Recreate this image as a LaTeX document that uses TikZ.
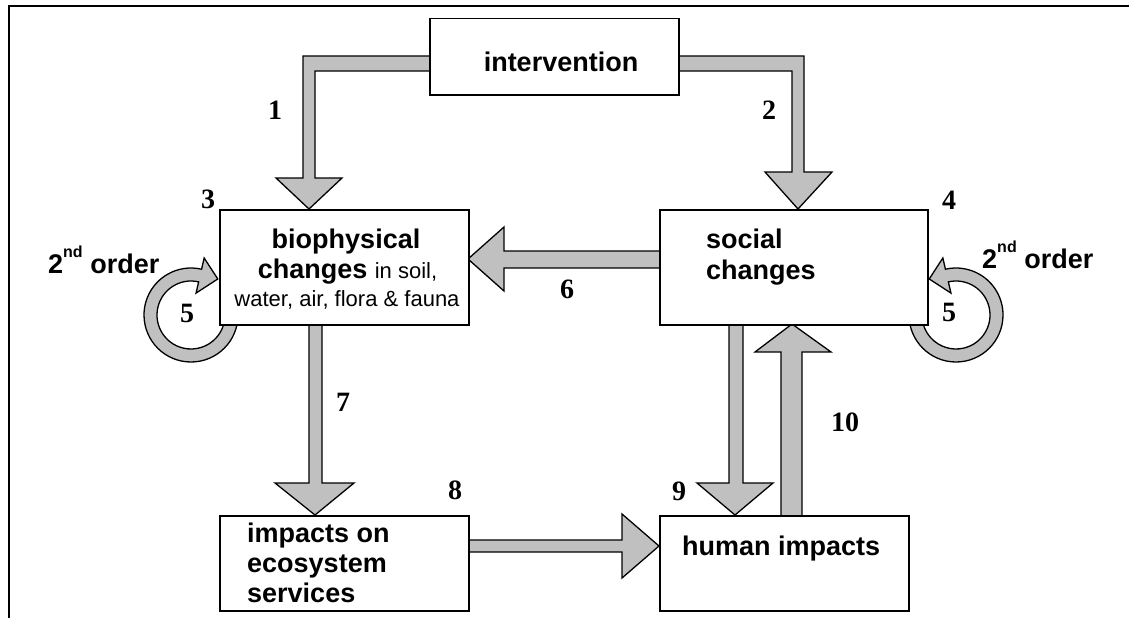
\documentclass[tikz,border=0pt]{standalone}
\usepackage{fontspec}
\setmainfont{Liberation Sans}
\newfontfamily\numfont{Liberation Serif}
\usetikzlibrary{calc}
\definecolor{arrowgray}{RGB}{192,192,192}
\tikzset{
  box/.style={draw, line width=1.5pt, fill=white, inner sep=0pt, anchor=north west},
  blk/.style={draw, line width=1.3pt, fill=arrowgray, line join=miter},
  num/.style={font=\numfont\bfseries\fontsize{28}{28}\selectfont, inner sep=0pt},
  big/.style={font=\bfseries\fontsize{27}{30}\selectfont, inner sep=0pt},
  small/.style={font=\fontsize{22}{26}\selectfont, inner sep=0pt},
  frame/.style={line width=1.5pt},
}
\begin{document}
\begin{tikzpicture}[x=1pt,y=-1pt]
\useasboundingbox (0,0) rectangle (1129,618);
% frame
\coordinate (fbl) at (9,618);
\coordinate (ftl) at (9,6);
\coordinate (ftr) at (1129,6);
\draw[frame] (fbl) -- (ftl) -- (ftr);

% box placement coordinates
\coordinate (intp) at (429,18);
\coordinate (biop) at (219,209);
\coordinate (socp) at (659,209);
\coordinate (impp) at (219,515);
\coordinate (hump) at (659,515);

% block arrows (drawn behind boxes)
% 1: intervention -> biophysical
\draw[blk] (440,56) -- (303,56) -- (303,178) -- (276,178) -- (309,209)
  -- (342,178) -- (315,178) -- (315,71) -- (440,71) -- cycle;
% 2: intervention -> social
\draw[blk] (670,56) -- (804,56) -- (804,172) -- (832,172) -- (798,209)
  -- (765,172) -- (792,172) -- (792,71) -- (670,71) -- cycle;
% 6: social -> biophysical
\draw[blk] (670,251) -- (504,251) -- (504,227) -- (468,259) -- (504,291)
  -- (504,268) -- (670,268) -- cycle;
% 7: biophysical -> impacts on ecosystem services
\draw[blk] (309,310) -- (309,483) -- (275,483) -- (315,515) -- (354,483)
  -- (322,483) -- (322,310) -- cycle;
% 8: impacts -> human impacts
\draw[blk] (455,540) -- (622,540) -- (622,514) -- (659,546) -- (622,578)
  -- (622,552) -- (455,552) -- cycle;
% 9: social -> human impacts
\draw[blk] (729,310) -- (729,483) -- (697,483) -- (735,515) -- (773,483)
  -- (743,483) -- (743,310) -- cycle;
% 10: human impacts -> social
\draw[blk] (781,525) -- (781,352) -- (755,352) -- (792,324) -- (831,352)
  -- (802,352) -- (802,525) -- cycle;

% 2nd order loops
\coordinate (cL) at (191,315);
\draw[blk] ($(cL)+(0:47)$) arc[start angle=0, end angle=283, radius=47]
  -- ($(cL)+(283:58.5)$) -- ($(cL)+(283:40.5)+(11:18)$)
  -- ($(cL)+(283:22.5)$) -- ($(cL)+(283:34)$)
  arc[start angle=283, end angle=0, radius=34] -- cycle;
\coordinate (cR) at (956,315);
\draw[blk] ($(cR)+(180:47)$) arc[start angle=180, end angle=-103, radius=47]
  -- ($(cR)+(-103:58.5)$) -- ($(cR)+(-103:40.5)+(169:18)$)
  -- ($(cR)+(-103:22.5)$) -- ($(cR)+(-103:34)$)
  arc[start angle=-103, end angle=180, radius=34] -- cycle;

% boxes
\node[box, minimum width=249pt, minimum height=76pt] (int) at (intp) {};
\node[box, minimum width=249pt, minimum height=115pt] (bio) at (biop) {};
\node[box, minimum width=268pt, minimum height=115pt] (soc) at (socp) {};
\node[box, minimum width=249pt, minimum height=95pt] (imp) at (impp) {};
\node[box, minimum width=249pt, minimum height=95pt] (hum) at (hump) {};

% box texts
\node[big, anchor=base] (intt) at (561,71) {intervention};
\node[big, anchor=base] (bio1) at (346,248) {biophysical};
\node[big, anchor=base] (bio2) at (347.5,278) {changes {\mdseries\fontsize{22}{26}\selectfont in soil,}};
\node[small, anchor=base] (bio3) at (347,306) {water, air, flora \& fauna};
\node[big, anchor=base west] (soc1) at (706,248) {social};
\node[big, anchor=base west] (soc2) at (706,279) {changes};
\node[big, anchor=base west] (imp1) at (247,542) {impacts on};
\node[big, anchor=base west] (imp2) at (247,572) {ecosystem};
\node[big, anchor=base west] (imp3) at (247,602) {services};
\node[big, anchor=base west] (humt) at (682,555) {human impacts};

% 2nd order labels
\node[big, anchor=base west] (ordL) at (48,273) {2\raisebox{16pt}{\fontsize{16}{16}\selectfont nd} order};
\node[big, anchor=base west] (ordR) at (982,268) {2\raisebox{16pt}{\fontsize{16}{16}\selectfont nd} order};

% numbers
\node[num] (n1) at (275,110) {1};
\node[num] (n2) at (769,110) {2};
\node[num] (n3) at (208,199) {3};
\node[num] (n4) at (949,200) {4};
\node[num] (n5L) at (187,313) {5};
\node[num] (n5R) at (949,312) {5};
\node[num] (n6) at (567,289) {6};
\node[num] (n7) at (343,402) {7};
\node[num] (n8) at (455,490) {8};
\node[num] (n9) at (679,491) {9};
\node[num] (n10) at (845,422) {10};
\end{tikzpicture}
\end{document}
